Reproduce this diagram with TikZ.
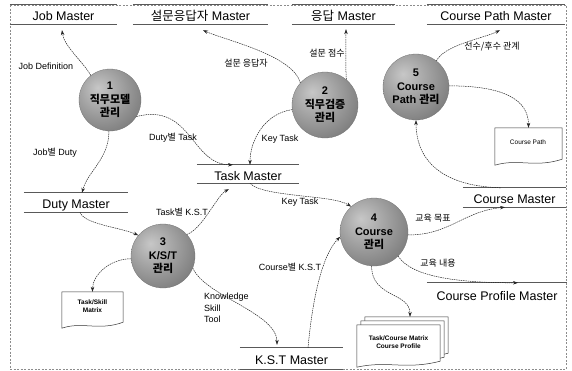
\documentclass[tikz,border=0pt]{standalone}
\usepackage{fontspec}
\setmainfont{Liberation Sans}
\newfontfamily\kr{Noto Sans CJK KR}
\usetikzlibrary{arrows.meta,calc}
\pgfdeclareradialshading{sphereshade}{\pgfpoint{-10bp}{10bp}}{color(0bp)=(black!22); color(15bp)=(black!35); color(35bp)=(black!52); color(50bp)=(black!72); color(75bp)=(black!85)}
\tikzset{
  proc/.style={circle, minimum size=#1, shading=sphereshade, draw=black!55, line width=0.3pt, align=center, inner sep=0pt, font=\bfseries\fontsize{11}{13.5}\selectfont},
  store/.style={inner sep=0pt, text height=12pt, text depth=0pt, font=\fontsize{12.5}{14}\selectfont},
  sline/.style={draw=black!65, line width=0.9pt},
  lbl/.style={inner sep=1pt, font=\fontsize{9}{11.5}\selectfont},
  flow/.style={draw=black!85, line width=0.5pt, dash pattern=on 1.5pt off 0.8pt, -{Stealth[length=5pt,width=3.5pt]}},
  docn/.style={inner sep=0pt, align=center, font=\bfseries\fontsize{6.5}{8.5}\selectfont},
  docline/.style={draw=black!80, line width=0.5pt, fill=white},
  docpath/.style n args={3}{insert path={([xshift=#2,yshift=#3]#1.north west) -- ([xshift=#2,yshift=#3]#1.north east) -- ([xshift=#2,yshift={#3+6pt}]#1.south east) .. controls ([xshift={#2+6pt},yshift={#3-3pt}]#1.south) and ([xshift={#2-10pt},yshift={#3+7pt}]#1.south) .. ([xshift=#2,yshift=#3]#1.south west) -- cycle}}
}
\begin{document}
\begin{tikzpicture}[x=1pt,y=-1pt]
\useasboundingbox (0,0) rectangle (572,370);
% frame
\draw[black!45, line width=0.4pt, dash pattern=on 2pt off 1.5pt] (10,5) rectangle (566,369);

% data stores
\node[store, minimum width=107, minimum height=19] (jobm) at (63.5,14.5) {Job Master};
\node[store, minimum width=135, minimum height=19] (sungm) at (200.5,14.5) {{\kr 설문응답자} Master};
\node[store, minimum width=103, minimum height=19] (eungm) at (343.5,14.5) {{\kr 응답} Master};
\node[store, minimum width=138, minimum height=19] (cpm) at (496,14.5) {Course Path Master};
\node[store, minimum width=102, minimum height=18] (taskm) at (248,174) {Task Master};
\node[store, minimum width=104, minimum height=19] (dutym) at (76,202.5) {Duty Master};
\node[store, minimum width=103, minimum height=19] (coursem) at (514.5,197.5) {Course Master};
\node[store, minimum width=140, minimum height=22] (cprofm) at (497,294) {Course Profile Master};
\node[store, minimum width=103, minimum height=21] (kstm) at (291.5,358.5) {K.S.T Master};
\foreach \s in {jobm,sungm,eungm,cpm,taskm,dutym,coursem,kstm}{
  \draw[sline] (\s.north west) -- (\s.north east);
  \draw[sline] (\s.south west) -- (\s.south east);
}
\draw[sline] (cprofm.north west) -- (cprofm.north east);

% processes
\node[proc=62] (c1) at (110,100) {1\\{\kr 직무모델}\\{\kr 관리}};
\node[proc=66] (c2) at (325,105) {2\\{\kr 직무검증}\\{\kr 관리}};
\node[proc=64] (c3) at (163,256) {3\\K/S/T\\{\kr 관리}};
\node[proc=68] (c4) at (374,232) {4\\Course\\{\kr 관리}};
\node[proc=66] (c5) at (416,87) {5\\Course\\Path {\kr 관리}};

% documents
\node[minimum width=67, minimum height=37, inner sep=0pt] (dcp) at (528.5,146.5) {};
\draw[docline, docpath={dcp}{0pt}{0pt}];
\node[docn, font=\fontsize{6.5}{8.5}\selectfont] (dcpt) at (528,142) {Course Path};

\node[minimum width=61, minimum height=36, inner sep=0pt] (dts) at (92.5,310) {};
\draw[docline, docpath={dts}{0pt}{0pt}];
\node[docn] (dtst) at (92.5,306) {Task/Skill\\Matrix};

\node[minimum width=83, minimum height=42, inner sep=0pt] (dtc) at (398.5,346) {};
\draw[docline, docpath={dtc}{8pt}{8pt}];
\draw[docline, docpath={dtc}{4pt}{4pt}];
\draw[docline, docpath={dtc}{0pt}{0pt}];
\node[docn] (dtct) at (398.5,342) {Task/Course Matrix\\Course Profile};

% flows
\draw[flow] (c1.128) .. controls +(-8,-14) and +(2,16) .. ([xshift=-1.5pt,yshift=-6pt]jobm.south);
\draw[flow] (c1.268) .. controls +(0,28) and +(6,-22) .. ([xshift=6pt]dutym.north);
\draw[flow] (c1.-32) .. controls +(55,-14) and +(-42,0) .. ([xshift=-15pt]taskm.north);
\draw[flow] (c2.188) .. controls +(-28,4) and +(0,-24) .. ([xshift=2pt]taskm.north);
\draw[flow] (c2.138) .. controls +(-8,-28) and +(22,10) .. ([xshift=2.5pt,yshift=-6pt]sungm.south);
\draw[flow] (c2.50) .. controls +(-1,-20) and +(0,16) .. ([xshift=2.5pt,yshift=-5pt]eungm.south);
\draw[flow] (c5.52) .. controls +(8,-16) and +(-16,8) .. ([xshift=4pt,yshift=-6pt]cpm.south);
\draw[flow] (c5.2) .. controls +(55,0) and +(0,-28) .. (dcp.north);
\draw[flow] ([xshift=-14pt]coursem.north) .. controls +(-65,-2) and +(0,35) .. (c5.270);
\draw[flow] ([xshift=4pt]dutym.south) .. controls +(4,12) and +(-18,-8) .. (c3.140);
\draw[flow] (c3.42) .. controls +(16,-6) and +(-12,6) .. ([xshift=-19pt,yshift=-6pt]taskm.south);
\draw[flow] ([xshift=2pt]taskm.south) .. controls +(12,14) and +(-18,-12) .. (c4.132);
\draw[flow] ([xshift=16.5pt]kstm.north) .. controls +(6,-65) and +(-14,14) .. (c4.188);
\draw[flow] (c3.185) .. controls +(-22,0) and +(0,-16) .. (dts.north);
\draw[flow] (c3.-22) .. controls +(12,28) and +(0,-32) .. ([xshift=-14.5pt,yshift=3pt]kstm.north);
\draw[flow] (c4.-5) .. controls +(42,0) and +(-42,4) .. ([xshift=-9.5pt]coursem.south);
\draw[flow] (c4.-45) .. controls +(14,22) and +(-55,0) .. ([xshift=21pt]cprofm.north);
\draw[flow] (c4.266) .. controls +(0,32) and +(0,-25) .. ([xshift=11.5pt,yshift=8pt]dtc.north);

% labels
\node[lbl] (l1) at (46,66) {Job Definition};
\node[lbl] (l2) at (55,153) {Job{\kr 별} Duty};
\node[lbl] (l3) at (173,138) {Duty{\kr 별} Task};
\node[lbl] (l4) at (280,139) {Key Task};
\node[lbl] (l5) at (246,63) {\kr 설문 응답자};
\node[lbl] (l6) at (327,53) {\kr 설문 점수};
\node[lbl] (l7) at (492,47) {\kr 선수/후수 관계};
\node[lbl] (l8) at (182,212) {Task{\kr 별} K.S.T};
\node[lbl] (l9) at (300,202) {Key Task};
\node[lbl] (l10) at (290,267) {Course{\kr 별} K.S.T};
\node[lbl, align=left, anchor=north west] (l11) at (203,292) {Knowledge\\Skill\\Tool};
\node[lbl] (l12) at (433,218) {\kr 교육 목표};
\node[lbl] (l13) at (438,263) {\kr 교육 내용};
\end{tikzpicture}
\end{document}
